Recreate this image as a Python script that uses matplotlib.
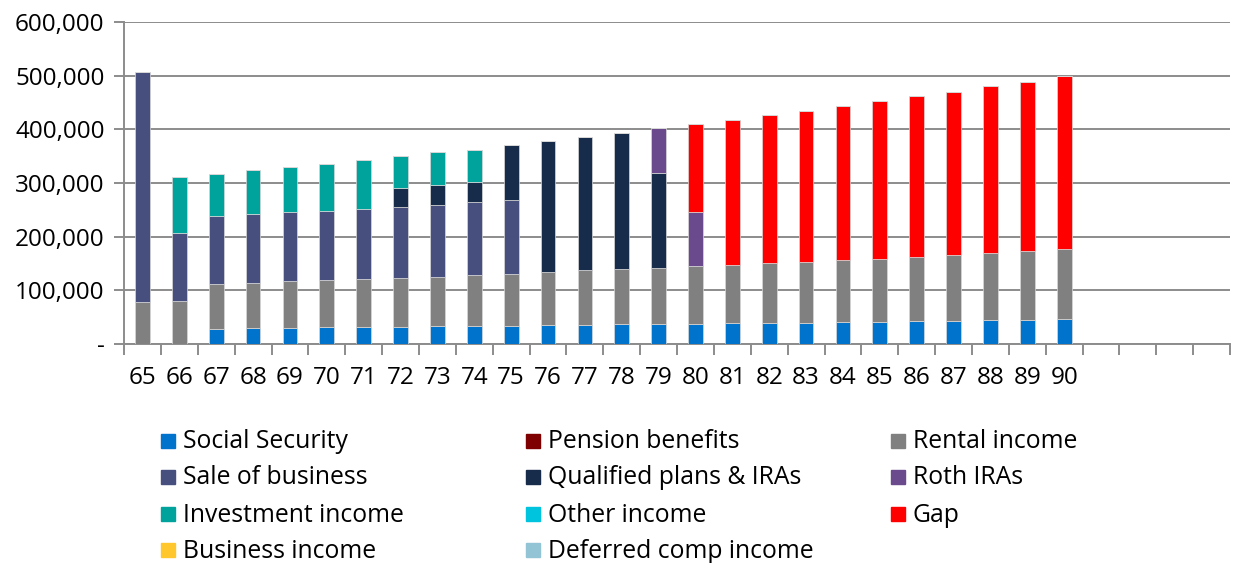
import matplotlib
matplotlib.use('Agg')
import matplotlib.pyplot as plt
import matplotlib.patches as mpatches
from matplotlib.ticker import FuncFormatter
import numpy as np

plt.rcParams['font.family'] = ['Open Sans', 'DejaVu Sans']

ages = [str(a) for a in range(65, 91)] + ['', '', '', '']

# values in dollars, ages 65..90
social_security = [0, 0, 28600, 29000, 30000, 31000, 31000, 32000, 33000, 33000, 34000,
                   35000, 36000, 37000, 37000, 38000, 38500, 39000, 40000, 41000, 41600,
                   42000, 43500, 44000, 44000, 46000]
pension = [0] * 26
rental = [79000, 81000, 83400, 85000, 87000, 88000, 90000, 91000, 92000, 95000, 96000,
          99000, 101000, 103000, 105000, 107000, 108500, 112000, 113000, 115500, 117400,
          120000, 122500, 126000, 129000, 131000]
sale_business = [427000, 125000, 126000, 128000, 128000, 129000, 131000, 133000, 134000,
                 136000, 138000] + [0] * 15
qualified = [0] * 7 + [35000, 38000, 37000, 103000, 244000, 249000, 254000, 177000] + [0] * 11
roth = [0] * 14 + [83000, 100000] + [0] * 10
investment = [0, 104600, 79000, 82000, 85000, 88000, 91000, 59000, 60000, 61000] + [0] * 16
other = [0] * 26
gap = [0] * 15 + [165000, 271000, 275000, 282000, 287000, 293000, 299500, 304000,
                  310000, 316000, 323000]
business = [0] * 26
deferred = [0] * 26

series = [
    ('Social Security', social_security, '#0074CC'),
    ('Pension benefits', pension, '#7F0000'),
    ('Rental income', rental, '#808080'),
    ('Sale of business', sale_business, '#464F7E'),
    ('Qualified plans & IRAs', qualified, '#172B4A'),
    ('Roth IRAs', roth, '#6A4A8C'),
    ('Investment income', investment, '#00A39B'),
    ('Other income', other, '#00C4DE'),
    ('Gap', gap, '#FF0000'),
    ('Business income', business, '#FFC72C'),
    ('Deferred comp income', deferred, '#92C4D6'),
]

fig = plt.figure(figsize=(12.33, 5.63), dpi=100)
ax = fig.add_axes([0.1006, 0.389, 0.8970, 0.572])

x = np.arange(len(social_security))
bottom = np.zeros(len(x))
for name, vals, color in series:
    vals = np.array(vals, dtype=float)
    ax.bar(x, vals, width=0.4, bottom=bottom, color=color, edgecolor='#d8d8d8',
           linewidth=0.5, zorder=3)
    bottom += vals

ax.set_xlim(-0.5, len(ages) - 0.5)
ax.set_ylim(0, 600000)
ax.set_yticks(np.arange(0, 600001, 100000))
ax.yaxis.set_major_formatter(FuncFormatter(lambda v, p: '-' if v == 0 else f'{int(v):,}'))
ax.grid(axis='y', color='#8c8c8c', linewidth=1.4, zorder=0)

ax.set_xticks(np.arange(len(ages)))
ax.set_xticklabels(ages)
ax.set_xticks(np.arange(len(ages) + 1) - 0.5, minor=True)
ax.tick_params(axis='x', which='major', length=0, pad=16, labelsize=17.5)
ax.tick_params(axis='x', which='minor', length=8, width=1.4, color='#8c8c8c')
ax.tick_params(axis='y', length=7, width=1.4, color='#8c8c8c', labelsize=17.5, pad=7)

for s in ['top', 'right']:
    ax.spines[s].set_visible(False)
for s in ['left', 'bottom']:
    ax.spines[s].set_color('#8c8c8c')
    ax.spines[s].set_linewidth(1.4)

# legend, 3 columns, row-major order
W, H = 1233.0, 563.0
col_x = [161, 526, 891]
row_y = [441, 477, 514, 550]
for i, (name, vals, color) in enumerate(series):
    r, c = divmod(i, 3)
    px, py = col_x[c], row_y[r]
    fig.add_artist(mpatches.Rectangle((px / W, 1 - (py + 7) / H), 14 / W, 14 / H,
                                      transform=fig.transFigure, color=color))
    fig.text((px + 22) / W, 1 - (py + 1) / H, name, fontsize=17.8, va='center', ha='left')

fig.savefig('out.png', dpi=100)
